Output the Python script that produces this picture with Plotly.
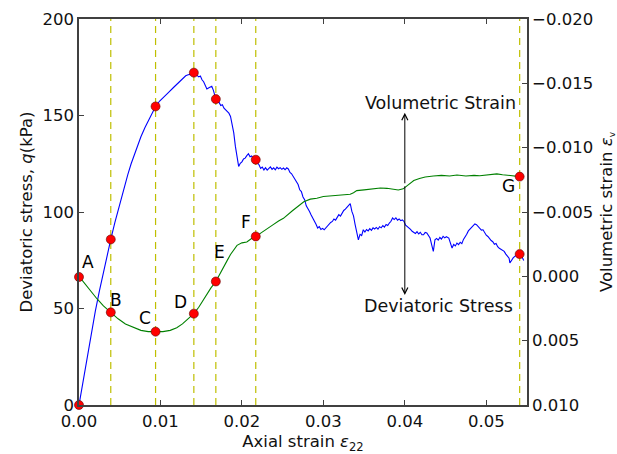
import plotly.graph_objects as go

# ---- data ----
strain_q = [0, 0.0005, 0.0010, 0.0015, 0.0020, 0.0025, 0.0030, 0.0035, 0.0039, 0.0044,
            0.0048, 0.0052, 0.0056, 0.0060, 0.0064, 0.0068, 0.0072, 0.0076, 0.0081, 0.0086,
            0.0090, 0.0094, 0.0099, 0.0104, 0.0110, 0.0116, 0.0122, 0.0127, 0.0131, 0.0134,
            0.0137, 0.0141, 0.0144, 0.0147, 0.0149, 0.0151, 0.0153, 0.0155, 0.0157, 0.0160,
            0.0163, 0.0165, 0.0168, 0.0170, 0.0172, 0.0174, 0.0176, 0.0178, 0.0180, 0.0182,
            0.0184, 0.0186, 0.0188, 0.0190, 0.0192, 0.0194, 0.0196, 0.0198, 0.0200, 0.0202,
            0.0204, 0.0206, 0.0208, 0.0210, 0.0212, 0.0214, 0.0217, 0.0219, 0.0221, 0.0223,
            0.0225, 0.0227, 0.0229, 0.0231, 0.0233, 0.0235, 0.0237, 0.0239, 0.0241, 0.0243,
            0.0245, 0.0247, 0.0249, 0.0251, 0.0253, 0.0255, 0.0257, 0.0259, 0.0261, 0.0263,
            0.0265, 0.0267, 0.0269, 0.0271, 0.0273, 0.0275, 0.0277, 0.0279, 0.0281, 0.0283,
            0.0285, 0.0287, 0.0289, 0.0291, 0.0293, 0.0295, 0.0297, 0.0299, 0.0301, 0.0303,
            0.0305, 0.0307, 0.0309, 0.0311, 0.0313, 0.0315, 0.0317, 0.0319, 0.0321, 0.0323,
            0.0325, 0.0327, 0.0329, 0.0331, 0.0333, 0.0335, 0.0337, 0.0339, 0.0341, 0.0343,
            0.0345, 0.0347, 0.0349, 0.0351, 0.0353, 0.0355, 0.0357, 0.0359, 0.0361, 0.0363,
            0.0365, 0.0367, 0.0369, 0.0371, 0.0373, 0.0375, 0.0377, 0.0379, 0.0381, 0.0383,
            0.0385, 0.0387, 0.0389, 0.0391, 0.0393, 0.0395, 0.0397, 0.0399, 0.0401, 0.0403,
            0.0405, 0.0407, 0.0409, 0.0411, 0.0413, 0.0415, 0.0417, 0.0419, 0.0421, 0.0423,
            0.0425, 0.0427, 0.0429, 0.0431, 0.0433, 0.0435, 0.0437, 0.0439, 0.0441, 0.0443,
            0.0445, 0.0447, 0.0449, 0.0451, 0.0454, 0.0456, 0.0458, 0.0460, 0.0462, 0.0464,
            0.0466, 0.0468, 0.0470, 0.0472, 0.0474, 0.0476, 0.0478, 0.0480, 0.0482, 0.0484,
            0.0486, 0.0488, 0.0490, 0.0492, 0.0494, 0.0496, 0.0498, 0.0500, 0.0502, 0.0504,
            0.0506, 0.0508, 0.0510, 0.0512, 0.0514, 0.0516, 0.0518, 0.0520, 0.0522, 0.0524,
            0.0526, 0.0528, 0.0529, 0.0531, 0.0533, 0.0535, 0.0537, 0.0539, 0.0541, 0.0543,
            0.0545, 0.0546]
deviatoric_stress = [0, 12.5, 25, 37, 48.5, 59, 69, 78, 85.8, 94.5,
                     101, 107.5, 113.5, 119.5, 125, 130, 134.5, 139, 143.8, 148.2,
                     151.6, 154.7, 157.5, 159.8, 162, 164.5, 166.8, 168.8, 170.6, 171.1,
                     171.3, 172.2, 171.2, 170, 170.5, 168.5, 167.5, 165.5, 163.7, 164.5,
                     165.1, 163, 158.5, 157.5, 156.8, 155.2, 155.6, 153.8, 153.0, 151.8,
                     151.2, 149.5, 145.5, 141, 134, 128.8, 123.6, 125.2, 126.0, 127.5,
                     127.9, 129.2, 130.2, 128.6, 129.0, 127.6, 127.1, 125.4, 124.5, 122.6,
                     123.3, 121.8, 122.9, 121.7, 122.6, 123.4, 122.1, 122.9, 121.9, 123.2,
                     122.4, 123.0, 122.1, 122.8, 121.9, 122.9, 122.3, 120.5, 119.8, 118.4,
                     117.6, 115.5, 114.2, 111.5, 110.6, 107.8, 106.4, 103.2, 102.0, 100.3,
                     98.5, 96.9, 96.0, 93.6, 91.7, 92.4, 90.9, 91.5, 90.8, 91.9,
                     92.7, 93.8, 94.6, 95.1, 96.4, 95.8, 97.3, 98.6, 97.9, 99.5,
                     100.8, 101.5, 102.6, 103.8, 104.3, 100.3, 98.0, 93.5, 88.5, 85.6,
                     88.4, 87.8, 90.8, 89.6, 90.9, 90.2, 91.4, 90.5, 91.8, 91.2,
                     92.0, 91.1, 92.4, 91.8, 93.0, 92.2, 93.5, 93.0, 94.3, 95.2,
                     96.9, 96.1, 97.0, 95.8, 96.4, 95.5, 95.9, 95.1, 93.2, 92.6,
                     91.9, 91.0, 90.0, 89.6, 88.9, 89.8, 88.6, 89.5, 88.2, 88.2,
                     89.4, 89.1, 88.0, 86.5, 83.0, 79.6, 85.6, 86.3, 85.4, 86.8,
                     86.0, 87.4, 86.6, 87.2, 86.5, 83.8, 81.3, 83.2, 82.4, 83.9,
                     83.1, 84.3, 83.6, 85.8, 86.9, 88.5, 90.2, 91.0, 92.1, 92.8,
                     93.8, 93.4, 92.4, 91.8, 90.6, 90.8, 89.2, 88.0, 87.3, 85.9,
                     85.2, 84.6, 83.3, 83.7, 82.0, 81.2, 80.6, 79.8, 79.6, 78.2,
                     77.0, 76.1, 73.6, 75.0, 76.2, 77.0, 77.6, 78.0, 78.2, 77.5,
                     75.8, 74.9]

strain_v = [0, 0.0005, 0.0010, 0.0015, 0.0022, 0.0030, 0.0039, 0.0048, 0.0057, 0.0067,
            0.0076, 0.0085, 0.0094, 0.0103, 0.0112, 0.0120, 0.0127, 0.0134, 0.0141, 0.0147,
            0.0152, 0.0157, 0.0162, 0.0168, 0.0172, 0.0177, 0.0182, 0.0186, 0.0190, 0.0194,
            0.0200, 0.0206, 0.0211, 0.0217, 0.0224, 0.0231, 0.0238, 0.0245, 0.0251, 0.0262,
            0.0270, 0.0276, 0.0284, 0.0292, 0.0300, 0.0310, 0.0320, 0.0328, 0.0333, 0.0337,
            0.0341, 0.0350, 0.0360, 0.0370, 0.0378, 0.0385, 0.0392, 0.0398, 0.0404, 0.0411,
            0.0418, 0.0425, 0.0435, 0.0445, 0.0455, 0.0464, 0.0475, 0.0485, 0.0492, 0.0500,
            0.0507, 0.0513, 0.0520, 0.0530, 0.0541]
volumetric_strain = [0.0, 0.0004, 0.0008, 0.0012, 0.00174, 0.0023, 0.0028, 0.0033, 0.0037, 0.00395,
                     0.0042, 0.0043, 0.0043, 0.0043, 0.0042, 0.0040, 0.0037, 0.0033, 0.0029, 0.0024,
                     0.0019, 0.00135, 0.0009, 0.0004, -0.0001, -0.0006, -0.00124, -0.0017, -0.0021, -0.00241,
                     -0.0026, -0.00267, -0.0029, -0.0031, -0.0034, -0.00373, -0.0040, -0.0043, -0.00451, -0.0051,
                     -0.0055, -0.0058, -0.0060, -0.00607, -0.0062, -0.00625, -0.0063, -0.00635, -0.00638, -0.0065,
                     -0.00666, -0.00672, -0.0068, -0.00686, -0.00684, -0.00675, -0.00671, -0.0068, -0.0071, -0.00745,
                     -0.0076, -0.00772, -0.0078, -0.00785, -0.0078, -0.00788, -0.0078, -0.00785, -0.00782, -0.00788,
                     -0.0079, -0.00796, -0.0079, -0.0078, -0.00775]

point_labels = ["A", "B", "C", "D", "E", "F", "G"]
point_strain = [0, 0.0039, 0.0094, 0.0141, 0.0168, 0.0217, 0.0541]
point_stress = [0, 85.8, 154.7, 172.2, 158.5, 127.1, 78.2]
point_vol = [0.00005, 0.0028, 0.0043, 0.0029, 0.0004, -0.0031, -0.00775]
label_x = [0.0011, 0.0046, 0.0081, 0.0124, 0.0173, 0.0205, 0.0527]
label_q = [74, 54.6, 45, 53.6, 79.4, 95, 113.6]

FONT = "DejaVu Sans"
FS = 16.5
AX = "#404040"

fig = go.Figure()

# vertical dashed lines at the marked states
for xv in point_strain[1:]:
    fig.add_trace(go.Scatter(x=[xv, xv], y=[0, 200], mode="lines",
                             line=dict(color="#bfbf00", width=1.2, dash="7px,5px"),
                             hoverinfo="skip", showlegend=False))

fig.add_trace(go.Scatter(x=strain_q, y=deviatoric_stress, mode="lines",
                         line=dict(color="#0000ff", width=1.1), showlegend=False))
fig.add_trace(go.Scatter(x=point_strain, y=point_stress, mode="markers",
                         marker=dict(color="red", size=9, line=dict(color="#600000", width=0.6)),
                         cliponaxis=False, showlegend=False))

fig.add_trace(go.Scatter(x=strain_v, y=volumetric_strain, mode="lines", yaxis="y2",
                         line=dict(color="#008000", width=1.1), showlegend=False))
fig.add_trace(go.Scatter(x=point_strain, y=point_vol, mode="markers", yaxis="y2",
                         marker=dict(color="red", size=9, line=dict(color="#600000", width=0.6)),
                         cliponaxis=False, showlegend=False))

annotations = []
for t, lx, lq in zip(point_labels, label_x, label_q):
    annotations.append(dict(x=lx, y=lq, xref="x", yref="y", text=t, showarrow=False,
                            font=dict(family=FONT, size=17, color="black")))

annotations.append(dict(x=0.04442, y=156.6, xref="x", yref="y", text="Volumetric Strain",
                        showarrow=False, font=dict(family=FONT, size=17.5, color="#111")))
annotations.append(dict(x=0.04417, y=51.4, xref="x", yref="y", text="Deviatoric Stress",
                        showarrow=False, font=dict(family=FONT, size=17.5, color="#111")))
annotations.append(dict(x=0.04, y=151.4, ax=0.04, ay=114.1, xref="x", yref="y",
                        axref="x", ayref="y", text="", showarrow=True, arrowhead=5,
                        arrowsize=1.2, arrowwidth=1, arrowcolor="black"))
annotations.append(dict(x=0.04, y=57.0, ax=0.04, ay=114.1, xref="x", yref="y",
                        axref="x", ayref="y", text="", showarrow=True, arrowhead=5,
                        arrowsize=1.2, arrowwidth=1, arrowcolor="black"))

fig.update_layout(
    width=617, height=454,
    margin=dict(l=79, r=90, t=19, b=49),
    paper_bgcolor="white", plot_bgcolor="white",
    font=dict(family=FONT, size=FS, color="#111"),
    annotations=annotations,
    xaxis=dict(range=[0, 0.055], tickvals=[0, 0.01, 0.02, 0.03, 0.04, 0.05], tickformat=".2f",
               ticks="inside", ticklen=5, tickcolor=AX, showline=True, linecolor=AX, linewidth=1.6,
               mirror="ticks", showgrid=False, zeroline=False, automargin=False,
               title=dict(text="Axial strain <i>ε</i><sub>22</sub>", standoff=6,
                          font=dict(family=FONT, size=FS))),
    yaxis=dict(range=[0, 200], tickvals=[0, 50, 100, 150, 200],
               ticks="inside", ticklen=5, tickcolor=AX, showline=True, linecolor=AX, linewidth=1.6,
               mirror=True, showgrid=False, zeroline=False, automargin=False,
               title=dict(text="Deviatoric stress, <i>q</i>(kPa)", standoff=6,
                          font=dict(family=FONT, size=FS))),
    yaxis2=dict(range=[0.010, -0.020], overlaying="y", side="right",
                tickvals=[-0.020, -0.015, -0.010, -0.005, 0.0, 0.005, 0.010], tickformat=".3f",
                ticks="inside", ticklen=5, tickcolor=AX, showline=True, linecolor=AX, linewidth=1.6,
                showgrid=False, zeroline=False, automargin=False,
                title=dict(text="Volumetric strain <i>ε</i><sub><span style='font-size:9px'>v</span></sub>",
                           standoff=8, font=dict(family=FONT, size=FS))),
)

fig.write_html("out.html")
